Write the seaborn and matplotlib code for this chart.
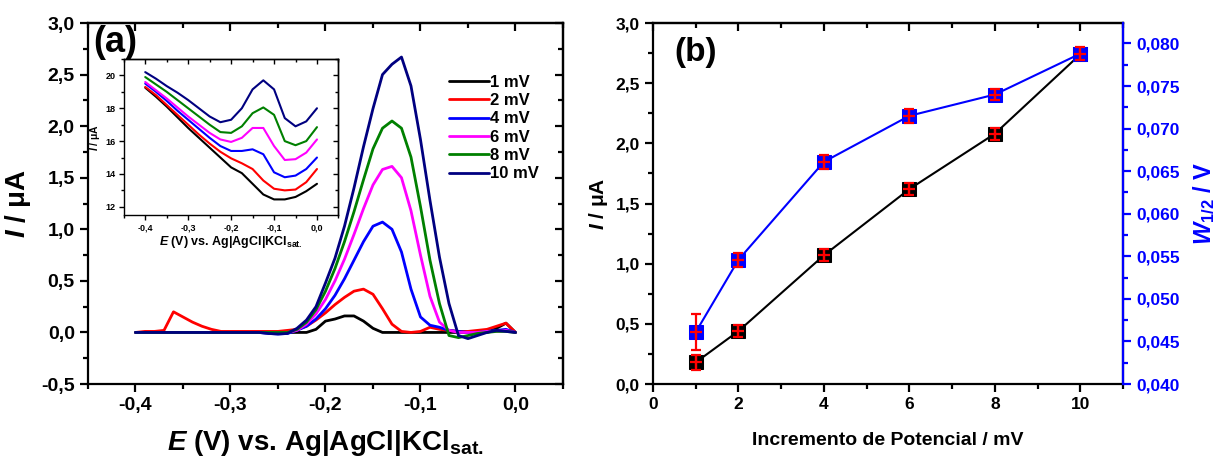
import numpy as np
import pandas as pd
import matplotlib
matplotlib.use("Agg")
import matplotlib.pyplot as plt
import seaborn as sns
from matplotlib.ticker import MultipleLocator, FuncFormatter

# ---------------- data ----------------
E = [-0.40, -0.39, -0.38, -0.37, -0.36, -0.35, -0.34, -0.33, -0.32, -0.31,
     -0.30, -0.29, -0.28, -0.27, -0.26, -0.25, -0.24, -0.23, -0.22, -0.21,
     -0.20, -0.19, -0.18, -0.17, -0.16, -0.15, -0.14, -0.13, -0.12, -0.11,
     -0.10, -0.09, -0.08, -0.07, -0.06, -0.05, -0.04, -0.03, -0.02, -0.01, 0.00]

i_1mV = [0, 0, 0, 0, 0, 0, 0, 0, 0, 0,
         0, 0, 0, 0, 0, 0, 0, 0, 0, 0.03,
         0.11, 0.13, 0.16, 0.16, 0.11, 0.04, 0.0, 0, 0, 0,
         0, 0, 0, 0, 0, 0, 0, 0, 0.04, 0.09, 0.0]
i_2mV = [0.0, 0.01, 0.01, 0.02, 0.20, 0.15, 0.10, 0.06, 0.03, 0.01,
         0.01, 0.01, 0.01, 0.01, 0.01, 0.01, 0.02, 0.03, 0.06, 0.12,
         0.19, 0.27, 0.34, 0.40, 0.42, 0.37, 0.23, 0.08, 0.01, 0.0,
         0.01, 0.05, 0.03, 0.02, 0.01, 0.01, 0.02, 0.03, 0.06, 0.09, 0.0]
i_4mV = [0, 0, 0, 0, 0, 0, 0, 0, 0, 0,
         0, 0, 0, 0, -0.01, -0.015, -0.01, 0.02, 0.06, 0.13,
         0.23, 0.36, 0.52, 0.70, 0.88, 1.03, 1.07, 1.00, 0.78, 0.42,
         0.15, 0.07, 0.05, 0.02, 0.01, 0.0, 0.0, 0.01, 0.02, 0.03, 0.0]
i_6mV = [0, 0, 0, 0, 0, 0, 0, 0, 0, 0,
         0, 0, 0, 0, 0, 0, 0.0, 0.02, 0.08, 0.18,
         0.32, 0.50, 0.71, 0.95, 1.20, 1.43, 1.58, 1.61, 1.50, 1.18,
         0.75, 0.35, 0.10, 0.02, 0.0, 0.0, 0.0, 0.01, 0.01, 0.02, 0.0]
i_8mV = [0, 0, 0, 0, 0, 0, 0, 0, 0, 0,
         0, 0, 0, 0, 0, 0, 0.0, 0.03, 0.10, 0.22,
         0.40, 0.62, 0.88, 1.17, 1.48, 1.78, 1.98, 2.05, 1.98, 1.70,
         1.22, 0.70, 0.28, -0.03, -0.05, -0.03, -0.01, 0.0, 0.01, 0.01, 0.0]
i_10mV = [0, 0, 0, 0, 0, 0, 0, 0, 0, 0,
          0, 0, 0, 0, -0.01, -0.015, -0.01, 0.04, 0.12, 0.25,
          0.48, 0.72, 1.03, 1.40, 1.80, 2.17, 2.50, 2.60, 2.67, 2.39,
          1.87, 1.28, 0.73, 0.28, -0.03, -0.06, -0.03, 0.0, 0.02, 0.01, 0.0]

series_labels = ["1 mV", "2 mV", "4 mV", "6 mV", "8 mV", "10 mV"]
series_colors = ["#000000", "#FF0000", "#0000FF", "#FF00FF", "#008000", "#000080"]

E_in = [-0.400, -0.375, -0.350, -0.325, -0.300, -0.275, -0.250, -0.225, -0.200,
        -0.175, -0.150, -0.125, -0.100, -0.075, -0.050, -0.025, 0.000]
raw_1mV = [19.25, 18.7, 18.1, 17.45, 16.8, 16.2, 15.6, 15.0, 14.4,
           14.05, 13.4, 12.75, 12.45, 12.45, 12.6, 12.95, 13.4]
raw_2mV = [19.3, 18.8, 18.2, 17.6, 17.0, 16.4, 15.85, 15.35, 14.95,
           14.65, 14.3, 13.6, 13.1, 13.0, 13.05, 13.5, 14.3]
raw_4mV = [19.5, 19.0, 18.45, 17.85, 17.3, 16.75, 16.2, 15.7, 15.4,
           15.4, 15.5, 15.2, 14.1, 13.8, 13.9, 14.3, 15.0]
raw_6mV = [19.6, 19.1, 18.6, 18.05, 17.5, 17.0, 16.5, 16.1, 15.95,
           16.2, 16.8, 16.8, 15.7, 14.85, 14.9, 15.3, 16.1]
raw_8mV = [19.9, 19.45, 19.0, 18.5, 18.0, 17.5, 17.0, 16.55, 16.5,
           16.9, 17.7, 18.05, 17.6, 16.0, 15.75, 16.0, 16.85]
raw_10mV = [20.2, 19.8, 19.35, 18.95, 18.5, 18.0, 17.5, 17.15, 17.3,
            18.0, 19.15, 19.7, 19.15, 17.4, 16.9, 17.2, 18.0]

increment = [1, 2, 4, 6, 8, 10]
peak_current = [0.18, 0.44, 1.07, 1.62, 2.08, 2.74]
peak_current_err = [0.06, 0.05, 0.05, 0.05, 0.05, 0.05]
w_half = [0.0461, 0.0546, 0.0661, 0.0715, 0.0740, 0.0788]
w_half_err = [0.0021, 0.0008, 0.0008, 0.0008, 0.0007, 0.0008]

# ---------------- style ----------------
sns.set_theme(style="ticks")
plt.rcParams["font.family"] = ["Liberation Sans", "DejaVu Sans"]
plt.rcParams["font.weight"] = "bold"
plt.rcParams["axes.labelweight"] = "bold"
for k in ["text.color", "axes.labelcolor", "xtick.color", "ytick.color", "axes.edgecolor"]:
    plt.rcParams[k] = "black"
plt.rcParams["mathtext.fontset"] = "custom"
plt.rcParams["mathtext.rm"] = "Liberation Sans:bold"
plt.rcParams["mathtext.it"] = "Liberation Sans:bold:italic"
plt.rcParams["mathtext.bf"] = "Liberation Sans:bold"

comma1 = FuncFormatter(lambda v, p: f"{v:.1f}".replace(".", ","))
comma3 = FuncFormatter(lambda v, p: f"{v:.3f}".replace(".", ","))
intfmt = FuncFormatter(lambda v, p: f"{v:.0f}")


def frame(ax, xmaj, xmin, ymaj, ymin, lw, L, lsize, pad=3.5):
    for s in ax.spines.values():
        s.set_linewidth(lw)
        s.set_color("black")
    ax.xaxis.set_major_locator(MultipleLocator(xmaj))
    ax.xaxis.set_minor_locator(MultipleLocator(xmin))
    ax.yaxis.set_major_locator(MultipleLocator(ymaj))
    ax.yaxis.set_minor_locator(MultipleLocator(ymin))
    ax.tick_params(which="major", direction="out", length=L, width=lw,
                   labelsize=lsize, colors="black", pad=pad)
    ax.tick_params(which="minor", direction="out", length=L * 0.55, width=lw)


def inner_ticks(ax, xmaj, xmin, ymaj, ymin, lw, L, right=True):
    top = ax.secondary_xaxis("top")
    top.xaxis.set_major_locator(MultipleLocator(xmaj))
    top.xaxis.set_minor_locator(MultipleLocator(xmin))
    top.tick_params(which="both", direction="in", labeltop=False, width=lw)
    top.tick_params(which="major", length=L)
    top.tick_params(which="minor", length=L * 0.55)
    top.spines["top"].set_linewidth(lw)
    if right:
        r = ax.secondary_yaxis("right")
        r.yaxis.set_major_locator(MultipleLocator(ymaj))
        r.yaxis.set_minor_locator(MultipleLocator(ymin))
        r.tick_params(which="both", direction="in", labelright=False, width=lw)
        r.tick_params(which="major", length=L)
        r.tick_params(which="minor", length=L * 0.55)
        r.spines["right"].set_linewidth(lw)


fig = plt.figure(figsize=(12.17, 4.63), dpi=100)
fig.patch.set_facecolor("white")

# ---------------- panel (a) ----------------
axA = fig.add_axes([0.0723, 0.1706, 0.3903, 0.7797])
dfA = pd.DataFrame({
    "E": E * 6,
    "I": i_1mV + i_2mV + i_4mV + i_6mV + i_8mV + i_10mV,
    "serie": sum([[l] * len(E) for l in series_labels], []),
})
sns.lineplot(data=dfA, x="E", y="I", hue="serie", hue_order=series_labels,
             palette=series_colors, estimator=None, sort=False, lw=2, ax=axA)
axA.set_xlim(-0.45, 0.05)
axA.set_ylim(-0.5, 3.0)
frame(axA, 0.1, 0.05, 0.5, 0.25, 1.6, 6, 14)
inner_ticks(axA, 0.1, 0.05, 0.5, 0.25, 1.6, 6)
axA.xaxis.set_major_formatter(comma1)
axA.yaxis.set_major_formatter(comma1)
axA.set_xlabel(r"$E$ (V) vs. Ag|AgCl|KCl$_{\mathrm{sat.}}$", fontsize=20, labelpad=10)
axA.set_ylabel(r"$I$ / μA", fontsize=20, labelpad=6)
axA.text(0.012, 0.995, "(a)", transform=axA.transAxes, fontsize=26,
         fontweight="bold", va="top", ha="left")
axA.legend(loc="upper left", bbox_to_anchor=(0.745, 0.875), frameon=False,
           fontsize=12, handlelength=2.4, handletextpad=0.1, labelspacing=0.2,
           borderaxespad=0)
for line in axA.get_legend().get_lines():
    line.set_linewidth(2)

# inset
axI = fig.add_axes([0.1017, 0.5356, 0.1764, 0.337])
dfI = pd.DataFrame({
    "E": E_in * 6,
    "I": raw_1mV + raw_2mV + raw_4mV + raw_6mV + raw_8mV + raw_10mV,
    "serie": sum([[l] * len(E_in) for l in series_labels], []),
})
sns.lineplot(data=dfI, x="E", y="I", hue="serie", hue_order=series_labels,
             palette=series_colors, estimator=None, sort=False, lw=1.5, ax=axI,
             legend=False)
axI.set_xlim(-0.45, 0.05)
axI.set_ylim(11.5, 21)
frame(axI, 0.1, 0.05, 2, 1, 1.0, 3.5, 6.5, pad=2.5)
inner_ticks(axI, 0.1, 0.05, 2, 1, 1.0, 3.5)
axI.xaxis.set_major_formatter(comma1)
axI.yaxis.set_major_formatter(intfmt)
axI.set_xlabel(r"$E$ (V) vs. Ag|AgCl|KCl$_{\mathrm{sat.}}$", fontsize=9, labelpad=1.5)
axI.set_ylabel(r"$I$ / μA", fontsize=7.5, labelpad=2)

# ---------------- panel (b) ----------------
axB = fig.add_axes([0.5366, 0.1706, 0.3862, 0.7797])
axB2 = axB.twinx()
sns.lineplot(x=increment, y=peak_current, ax=axB, color="black", lw=1.5,
             marker="s", markersize=10, markeredgecolor="black")
axB.errorbar(increment, peak_current, yerr=peak_current_err, fmt="+",
             color="#FF0000", markersize=8, markeredgewidth=1.6,
             elinewidth=1.6, capsize=3.5, capthick=1.6, zorder=5)
sns.lineplot(x=increment, y=w_half, ax=axB2, color="#0000FF", lw=1.5,
             marker="s", markersize=10, markeredgecolor="#0000FF")
axB2.errorbar(increment, w_half, yerr=w_half_err, fmt="+",
              color="#FF0000", markersize=8, markeredgewidth=1.6,
              elinewidth=1.6, capsize=3.5, capthick=1.6, zorder=5)
axB.set_xlim(0, 11)
axB.set_ylim(0, 3.0)
axB2.set_ylim(0.040, 0.0824)
frame(axB, 2, 1, 0.5, 0.25, 1.6, 6, 12.5)
inner_ticks(axB, 2, 1, 0.5, 0.25, 1.6, 6, right=False)
axB.xaxis.set_major_formatter(intfmt)
axB.yaxis.set_major_formatter(comma1)
axB.set_xlabel("Incremento de Potencial / mV", fontsize=14, labelpad=14)
axB.set_ylabel(r"$I$ / μA", fontsize=15, labelpad=4)
axB.text(0.045, 0.96, "(b)", transform=axB.transAxes, fontsize=24,
         fontweight="bold", va="top", ha="left")

axB2.yaxis.set_major_locator(MultipleLocator(0.005))
axB2.yaxis.set_minor_locator(MultipleLocator(0.0025))
axB2.yaxis.set_major_formatter(comma3)
axB2.tick_params(axis="y", which="major", direction="out", length=6, width=1.6,
                 colors="#0000FF", labelsize=12.5)
axB2.tick_params(axis="y", which="minor", direction="out", length=3.3, width=1.6,
                 colors="#0000FF")
for k in ["left", "top", "bottom"]:
    axB2.spines[k].set_visible(False)
axB2.spines["right"].set_color("#0000FF")
axB2.spines["right"].set_linewidth(1.6)
axB2.set_ylabel(r"$W_{\mathit{1/2}}$ / V", fontsize=17, color="#0000FF", labelpad=8)

fig.savefig("out.png", dpi=100, facecolor="white")
